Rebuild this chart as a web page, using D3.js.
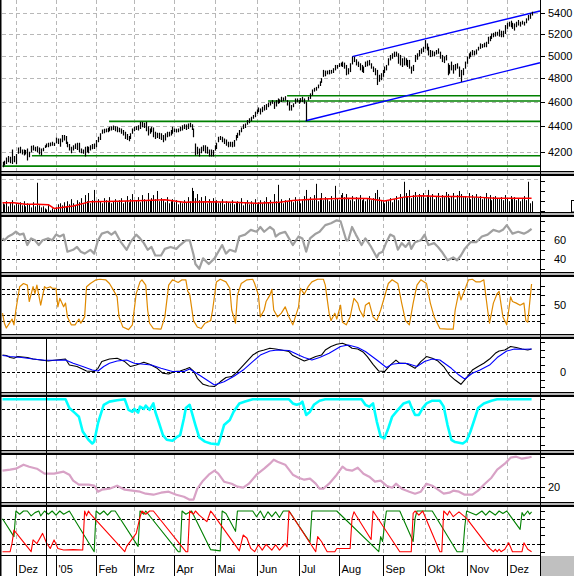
<!DOCTYPE html>
<html>
<head>
<meta charset="utf-8">
<script src="https://cdn.jsdelivr.net/npm/d3@7"></script>
<style>
  body { margin: 0; background: #fff; }
  svg { display: block; }
  text { font-family: "Liberation Sans", Arial, sans-serif; font-size: 11px; fill: #000; }
</style>
</head>
<body>
<div id="chart"></div>
<script>
// ---- data ----
var highs = [4124,4132,4157,4167,4162,4218,4167,4183,4233,4238,
  4218,4218,4213,4225,4200,4246,4251,4238,4243,4233,
  4225,4230,4251,4264,4269,4272,4277,4269,4311,4303,
  4303,4330,4330,4322,4277,4259,4238,4251,4264,4269,
  4269,4225,4218,4238,4243,4238,4251,4259,4264,4290,
  4316,4343,4374,4379,4382,4387,4395,4400,4406,4400,
  4395,4387,4382,4369,4356,4338,4322,4343,4382,4395,
  4400,4408,4435,4435,4427,4435,4400,4382,4395,4390,
  4356,4348,4348,4343,4330,4343,4356,4356,4369,4395,
  4382,4379,4382,4395,4408,4416,4414,4422,4427,4416,
  4382,4264,4238,4225,4238,4251,4251,4238,4218,4218,
  4213,4251,4269,4316,4322,4316,4303,4295,4277,4277,
  4277,4290,4330,4348,4369,4390,4416,4422,4449,4463,
  4476,4490,4517,4536,4552,4544,4558,4572,4580,4592,
  4600,4613,4600,4613,4627,4619,4641,4635,4646,4613,
  4600,4572,4586,4627,4627,4613,4630,4641,4627,4600,
  4641,4670,4703,4717,4725,4745,4773,4801,4873,4867,
  4867,4873,4873,4888,4917,4917,4932,4938,4947,4938,
  4917,4888,4932,4992,4992,4968,4947,4932,4917,4903,
  4947,4956,4962,4932,4903,4888,4873,4830,4844,4873,
  4903,4917,4977,5007,5022,5037,5037,5022,5007,4977,
  4986,4977,4962,4962,4903,4917,5007,5022,5052,5067,
  5082,5144,5113,5082,5052,5046,5037,5052,5067,5037,
  5007,4992,5007,4932,4917,4947,4917,4926,4932,4903,
  4873,4888,4947,4992,5022,5037,5052,5046,5058,5082,
  5113,5107,5119,5128,5175,5181,5206,5212,5222,5222,
  5244,5232,5232,5286,5308,5318,5328,5308,5302,5318,
  5335,5318,5328,5318,5351,5383,5400,5416];

var lows = [4087,4100,4112,4124,4117,4112,4124,4112,4188,4193,
  4183,4175,4183,4137,4162,4200,4213,4208,4200,4183,
  4175,4208,4233,4238,4238,4246,4251,4248,4269,4264,
  4243,4277,4290,4264,4238,4213,4193,4213,4225,4218,
  4200,4193,4188,4167,4200,4193,4213,4223,4225,4238,
  4277,4295,4343,4348,4356,4356,4364,4369,4374,4364,
  4356,4356,4343,4330,4303,4295,4285,4303,4343,4364,
  4374,4369,4382,4395,4390,4364,4330,4343,4356,4316,
  4303,4311,4303,4295,4277,4290,4316,4322,4330,4343,
  4356,4353,4356,4364,4369,4382,4374,4382,4395,4374,
  4316,4175,4183,4167,4193,4208,4193,4188,4167,4167,
  4167,4213,4225,4277,4295,4277,4264,4251,4238,4243,
  4238,4243,4290,4311,4330,4356,4382,4390,4416,4427,
  4443,4463,4476,4503,4517,4498,4517,4530,4536,4558,
  4572,4586,4544,4564,4586,4592,4600,4608,4613,4572,
  4530,4530,4558,4586,4600,4586,4597,4600,4586,4443,
  4613,4627,4656,4689,4697,4717,4737,4764,4816,4821,
  4838,4838,4844,4850,4873,4888,4903,4909,4903,4888,
  4830,4838,4858,4926,4947,4917,4903,4873,4858,4850,
  4903,4909,4917,4888,4858,4830,4745,4773,4787,4816,
  4850,4873,4917,4962,4977,4992,4998,4932,4917,4903,
  4917,4917,4903,4888,4844,4867,4947,4968,4998,5022,
  5037,5067,5052,5007,4992,4998,4998,5016,5022,4977,
  4947,4938,4962,4830,4844,4873,4844,4873,4888,4816,
  4773,4830,4888,4932,4977,4992,5007,5007,5016,5052,
  5067,5076,5082,5082,5113,5138,5159,5175,5181,5190,
  5181,5175,5175,5206,5254,5276,5270,5254,5238,5270,
  5286,5276,5296,5286,5308,5335,5351,5383];

var volume = [45,40,55,30,50,60,35,45,40,50,
  35,55,30,45,40,25,50,30,145,35,
  25,30,20,15,35,10,20,15,25,40,
  45,35,50,30,55,40,65,45,35,60,
  50,70,40,85,55,95,45,60,110,50,
  65,55,45,70,60,50,75,45,55,65,
  50,60,70,45,55,80,50,65,90,55,
  60,75,50,85,65,55,95,60,70,85,
  65,105,55,70,60,50,75,45,55,65,
  50,60,40,55,45,60,50,75,55,120,
  105,70,90,60,75,55,80,45,65,50,
  70,55,60,45,50,65,40,55,50,45,
  60,40,50,55,45,70,35,50,60,40,
  55,45,65,40,50,60,45,55,75,50,
  60,45,90,55,135,50,65,45,60,55,
  70,60,50,75,55,65,45,60,80,110,
  65,75,60,85,140,55,70,95,60,75,
  65,55,80,60,130,70,60,85,95,75,
  90,70,60,80,55,75,65,85,60,70,
  55,65,80,60,70,95,110,75,60,55,
  45,60,55,70,50,65,80,60,90,75,
  150,95,80,110,70,85,100,75,90,80,
  95,70,85,110,75,90,65,80,95,70,
  85,75,100,90,70,80,95,65,85,105,
  90,75,80,70,95,65,85,75,90,70,
  80,65,75,95,70,85,60,75,80,70,
  65,75,60,85,70,55,80,65,75,60,
  70,55,65,80,60,150,45,55];

var volumeAvg = [[0,48],[6,48],[12,40],[18,40],[24,38],[27,20],[37,32],[46,53],[60,55],[75,58],
  [85,62],[95,50],[108,53],[121,50],[133,45],[145,50],[152,58],[162,65],[181,70],[191,68],
  [200,56],[210,75],[219,82],[229,78],[238,78],[248,75],[258,70],[277,70]];

var rsi = [[0,62],[1,60],[3,64],[5,66],[7,69],[9,66],[11,67],[13,55],[15,62],[17,60],[19,55],[21,60],
  [24,62],[26,60],[28,66],[30,64],[32,66],[34,48],[37,50],[39,53],[41,48],[43,46],[46,50],[48,46],
  [50,60],[52,67],[55,69],[57,66],[59,69],[62,58],[65,50],[67,58],[70,66],[72,62],[74,57],[76,50],
  [78,53],[80,44],[83,44],[85,51],[88,53],[91,51],[93,55],[96,60],[98,60],[100,45],[101,35],[103,30],
  [105,41],[108,35],[111,41],[113,48],[115,55],[117,46],[119,50],[122,48],[124,64],[127,66],[130,71],
  [133,69],[135,74],[137,69],[140,74],[142,71],[143,64],[145,67],[148,69],[150,62],[152,55],[155,64],
  [157,62],[159,48],[161,62],[164,67],[166,69],[169,76],[172,78],[175,81],[177,80],[180,60],[181,60],
  [183,74],[185,66],[188,55],[190,62],[193,53],[196,42],[197,46],[199,48],[201,58],[203,66],[205,64],
  [207,50],[209,57],[211,53],[213,58],[214,51],[216,58],[219,60],[221,66],[223,55],[226,57],[228,53],
  [230,48],[233,39],[236,42],[238,39],[240,44],[242,51],[245,58],[248,58],[251,64],[254,66],[257,71],
  [260,69],[262,71],[264,76],[267,67],[270,69],[273,67],[275,69],[277,72]];

var stoch = [[0,34],[1,15],[2,6],[4,17],[5,23],[6,12],[7,40],[9,84],[11,90],[13,87],[14,56],[16,84],
  [17,71],[18,87],[20,49],[22,84],[23,81],[25,84],[26,81],[28,81],[29,46],[30,62],[32,46],[33,53],
  [34,27],[36,12],[38,12],[40,23],[41,15],[43,27],[44,84],[46,90],[49,97],[51,98],[54,97],[56,90],
  [58,78],[60,65],[61,27],[63,8],[66,3],[68,12],[70,71],[72,93],[73,97],[75,87],[76,40],[77,15],
  [79,5],[83,4],[85,27],[87,87],[89,97],[92,92],[94,97],[96,97],[97,75],[98,70],[100,20],[102,8],
  [104,5],[106,15],[109,20],[110,40],[112,93],[114,98],[117,93],[119,81],[120,40],[122,15],[123,68],
  [125,90],[128,97],[131,98],[132,90],[134,68],[135,27],[137,40],[138,56],[140,68],[141,79],[142,40],
  [144,27],[146,34],[148,46],[150,27],[152,12],[155,46],[156,81],[158,70],[160,84],[162,93],[165,98],
  [168,98],[169,87],[171,34],[172,20],[174,34],[175,23],[177,49],[178,17],[180,12],[182,27],[184,62],
  [186,53],[187,40],[189,27],[190,49],[192,54],[194,27],[196,20],[198,40],[200,65],[202,90],[204,97],
  [207,90],[209,53],[211,20],[213,12],[215,53],[217,87],[219,97],[222,90],[224,53],[226,27],[229,5],
  [233,4],[236,4],[237,40],[239,75],[240,59],[242,78],[244,97],[246,98],[248,93],[250,93],[252,97],
  [254,40],[255,15],[257,53],[259,71],[260,75],[262,27],[264,12],[266,65],[267,56],[269,53],[271,49],
  [273,53],[274,20],[275,17],[276,53],[277,89]];

var macd = [[0,69],[2,67],[4,59],[6,56],[8,63],[13,59],[16,53],[20,49],[24,45],[27,48],[33,53],[35,29],
  [39,23],[44,5],[48,3],[50,16],[52,43],[56,53],[60,56],[64,43],[67,23],[70,29],[74,40],[77,32],[81,16],
  [84,-4],[87,-7],[90,3],[93,5],[96,13],[98,19],[100,5],[102,-24],[105,-48],[108,-55],[111,-57],
  [114,-38],[117,-21],[120,-17],[123,3],[127,36],[131,69],[134,83],[137,89],[140,96],[143,93],[146,89],
  [150,83],[152,67],[155,56],[158,45],[161,53],[164,63],[167,69],[169,89],[172,103],[175,112],
  [178,116],[181,107],[183,96],[186,93],[189,80],[191,63],[194,32],[197,5],[200,3],[203,29],[206,49],
  [208,36],[211,36],[213,29],[216,16],[219,43],[222,63],[225,56],[228,45],[231,23],[234,-11],[237,-31],
  [240,-48],[243,-21],[246,9],[249,23],[252,36],[255,53],[258,76],[260,85],[263,89],[266,103],[269,99],
  [272,93],[275,89],[277,93]];

var macdSignal = [[0,67],[4,63],[10,59],[16,53],[22,48],[27,48],[33,49],[37,36],[42,23],[47,9],[50,5],
  [53,23],[56,36],[60,45],[65,49],[69,36],[74,32],[78,29],[83,16],[89,3],[95,3],[98,13],[103,-11],
  [107,-31],[111,-51],[116,-38],[121,-17],[126,9],[131,43],[135,69],[140,85],[144,89],[150,87],[155,69],
  [158,59],[162,49],[166,59],[171,76],[177,103],[181,109],[186,99],[190,83],[196,49],[201,19],[204,32],
  [208,36],[212,35],[217,23],[221,43],[225,53],[229,49],[235,16],[239,-11],[242,-27],[246,-4],[250,9],
  [255,29],[259,59],[264,85],[268,93],[273,92],[277,93]];

var cyanLine = [[0,100],[33,100],[35,81],[38,70],[40,62],[42,30],[45,12],[47,4],[48,8],[50,48],[51,62],
  [53,88],[56,95],[60,98],[64,100],[66,77],[68,73],[69,79],[71,71],[72,84],[74,79],[75,86],[77,77],
  [79,91],[80,73],[82,48],[84,22],[86,12],[89,10],[91,17],[93,22],[95,59],[96,81],[98,88],[99,73],
  [101,44],[103,17],[106,8],[109,4],[113,2],[114,15],[116,44],[119,55],[121,73],[124,91],[127,95],
  [131,100],[150,100],[152,91],[154,88],[156,91],[157,95],[159,66],[161,73],[163,88],[166,97],[169,100],
  [188,100],[190,88],[192,84],[194,91],[196,51],[198,19],[200,15],[202,37],[204,62],[207,77],[210,91],
  [213,95],[214,84],[216,66],[218,66],[220,81],[222,91],[225,97],[229,97],[231,84],[233,44],[235,12],
  [237,7],[241,4],[243,10],[245,30],[247,55],[249,81],[252,91],[256,97],[259,100],[277,100]];

var pinkLine = [[0,36],[4,37],[7,38],[11,42],[14,40],[18,38],[22,33],[27,33],[32,35],[35,32],[37,26],
  [40,22],[45,22],[48,21],[50,15],[52,17],[56,18],[60,21],[64,17],[68,16],[72,15],[75,13],[79,12],
  [83,14],[87,15],[91,12],[95,10],[98,7],[100,7],[102,18],[105,26],[108,32],[111,36],[113,33],[116,25],
  [120,23],[123,20],[126,19],[129,23],[133,32],[137,38],[140,43],[142,47],[144,45],[148,42],[152,32],
  [155,29],[158,27],[161,28],[164,23],[166,18],[168,18],[171,23],[175,32],[178,40],[180,37],[183,36],
  [186,39],[189,33],[192,30],[195,25],[198,26],[201,21],[204,19],[206,23],[209,18],[213,15],[216,13],
  [219,15],[222,23],[225,21],[228,17],[231,13],[234,14],[236,16],[239,15],[242,12],[246,12],[249,16],
  [252,22],[256,29],[259,37],[263,43],[266,49],[269,50],[272,48],[275,49],[277,50]];

var aroonUp = [[0,81],[6,37],[7,100],[9,92],[11,100],[13,100],[15,88],[17,96],[19,100],[20,88],[22,100],
  [24,92],[26,100],[28,90],[30,100],[32,92],[35,100],[48,0],[49,100],[51,92],[53,100],[55,90],[57,100],
  [59,100],[71,13],[72,100],[74,92],[75,100],[92,0],[93,0],[94,100],[96,92],[99,100],[103,62],[109,5],
  [114,2],[115,100],[117,94],[122,50],[123,100],[131,100],[133,86],[135,100],[137,82],[139,98],[141,86],
  [143,98],[145,84],[147,100],[150,100],[161,23],[162,100],[175,100],[197,0],[198,37],[199,25],[200,66],
  [201,100],[208,100],[215,25],[216,82],[217,100],[225,100],[238,0],[241,0],[242,60],[243,100],[248,90],
  [251,100],[253,90],[255,100],[258,90],[260,100],[262,94],[264,100],[271,55],[272,96],[273,88],
  [275,100],[276,92],[277,98]];

var aroonDown = [[0,0],[4,0],[5,21],[6,53],[15,0],[16,29],[18,20],[21,45],[23,22],[25,8],[27,29],[29,8],
  [32,4],[37,5],[42,4],[43,100],[44,88],[45,100],[46,93],[64,0],[65,13],[70,45],[72,85],[73,100],
  [75,92],[77,100],[79,100],[96,0],[97,0],[98,100],[100,92],[101,100],[103,90],[107,74],[109,100],
  [110,94],[124,2],[126,41],[128,33],[130,8],[132,0],[134,17],[136,4],[138,18],[141,4],[143,17],[145,4],
  [148,20],[149,12],[150,100],[152,86],[164,0],[165,37],[167,25],[170,0],[174,0],[175,8],[182,8],
  [183,82],[184,98],[185,90],[193,30],[194,100],[208,0],[214,0],[215,94],[216,100],[218,90],[220,100],
  [229,0],[230,0],[231,100],[233,90],[234,100],[236,86],[239,98],[241,90],[243,82],[255,8],[257,0],
  [258,6],[259,0],[260,6],[261,0],[263,6],[265,22],[267,0],[272,0],[273,22],[275,6],[277,0]];

var monthLabels = ["Dez", "'05", "Feb", "Mrz", "Apr", "Mai", "Jun", "Jul", "Aug", "Sep", "Okt", "Nov", "Dez"];
var monthStart = [7, 28, 49, 69, 90, 111, 133, 155, 176, 199, 221, 243, 264];
var cursorBar = 23;

var priceTicks = [4200, 4400, 4600, 4800, 5000, 5200, 5400];
var supportLevels = [4092, 4170, 4438, 4605, 4650];
var supportFrom = [0, 15.4, 55.8, 139, 149];
var channelUpper = [[183.1, 4992], [281.4, 5423]];
var channelLower = [[158.7, 4443], [281.4, 4937]];

// ---- drawing ----
window.onload = function(){
  var W = 574, H = 576, axisX = 540;

  var svg = d3.select("#chart").append("svg")
    .attr("width", W).attr("height", H)
    .attr("shape-rendering", "auto");

  svg.append("rect").attr("width", W).attr("height", H).attr("fill", "#fff");

  var x = d3.scaleLinear().domain([0, highs.length - 1]).range([2.5, 2.5 + (highs.length - 1) * 1.91]);
  function px(i){ return Math.round(x(i)) + 0.5; }

  // panel frames
  var panels = {
    price: [0, 171], vol: [176, 212], rsi: [217, 272], stoch: [277, 334],
    macd: [339, 392], cyan: [397, 450], pink: [455, 502], aroon: [507, 555.5]
  };

  var defs = svg.append("defs");
  Object.keys(panels).forEach(function(k){
    defs.append("clipPath").attr("id", "clip-" + k)
      .append("rect").attr("x", 1.5).attr("y", panels[k][0])
      .attr("width", axisX - 1.5).attr("height", panels[k][1] - panels[k][0]);
  });

  function panelGroup(k){
    var g = svg.append("g");
    var top = panels[k][0], bot = panels[k][1];
    // month grid
    g.selectAll(".vgrid").data(monthStart).enter().append("line")
      .attr("x1", function(d){ return px(d); }).attr("x2", function(d){ return px(d); })
      .attr("y1", top).attr("y2", bot)
      .attr("stroke", "#b8b8b8").attr("stroke-dasharray", "4,3");
    return g;
  }

  function levels(g, scale, vals){
    g.selectAll(null).data(vals).enter().append("line")
      .attr("x1", 2).attr("x2", axisX)
      .attr("y1", function(d){ return Math.round(scale(d)) + 0.5; })
      .attr("y2", function(d){ return Math.round(scale(d)) + 0.5; })
      .attr("stroke", "#000").attr("stroke-dasharray", "3,2");
  }

  function ticks(scale, vals){
    svg.append("g").selectAll(null).data(vals).enter().append("line")
      .attr("x1", axisX).attr("x2", axisX + 5)
      .attr("y1", function(d){ return Math.round(scale(d)) + 0.5; })
      .attr("y2", function(d){ return Math.round(scale(d)) + 0.5; })
      .attr("stroke", "#000");
  }

  function label(scale, vals, lx){
    svg.append("g").selectAll(null).data(vals).enter().append("text")
      .attr("x", lx).attr("y", function(d){ return scale(d); })
      .attr("dy", "0.36em").text(function(d){ return d; });
  }

  function series(g, k, data, scale, color, width){
    var line = d3.line().x(function(d){ return x(d[0]); }).y(function(d){ return scale(d[1]); });
    g.append("path").datum(data)
      .attr("clip-path", "url(#clip-" + k + ")")
      .attr("d", line).attr("fill", "none")
      .attr("stroke", color).attr("stroke-width", width)
      .attr("stroke-linejoin", "round");
  }

  // ---- price ----
  var yP = d3.scaleLog().domain([4056, 5532]).range([171, 0]);
  var gP = panelGroup("price");
  gP.selectAll(null).data(priceTicks).enter().append("line")
    .attr("x1", 2).attr("x2", axisX)
    .attr("y1", function(d){ return Math.round(yP(d)) + 0.5; })
    .attr("y2", function(d){ return Math.round(yP(d)) + 0.5; })
    .attr("stroke", "#b8b8b8").attr("stroke-dasharray", "4,3");
  gP.selectAll(null).data(supportLevels).enter().append("line")
    .attr("x1", function(d, i){ return x(supportFrom[i]); }).attr("x2", axisX)
    .attr("y1", function(d){ return yP(d); }).attr("y2", function(d){ return yP(d); })
    .attr("stroke", "#008000").attr("stroke-width", 1.6);
  [channelUpper, channelLower].forEach(function(c){
    gP.append("line")
      .attr("x1", x(c[0][0])).attr("y1", yP(c[0][1]))
      .attr("x2", x(c[1][0])).attr("y2", yP(c[1][1]))
      .attr("stroke", "#0000ff").attr("stroke-width", 1.4);
  });
  gP.append("g").attr("clip-path", "url(#clip-price)")
    .selectAll(null).data(highs).enter().append("line")
    .attr("x1", function(d, i){ return px(i); }).attr("x2", function(d, i){ return px(i); })
    .attr("y1", function(d){ return yP(d); })
    .attr("y2", function(d, i){ return yP(lows[i]) + 0.5; })
    .attr("stroke", "#000").attr("stroke-width", 1.2);
  ticks(yP, priceTicks);
  label(yP, priceTicks, 548);

  // ---- volume ----
  var yV = d3.scaleLinear().domain([0, 100]).range([212.5, 192]);
  var gV = panelGroup("vol");
  gV.append("line").attr("x1", 2).attr("x2", axisX)
    .attr("y1", 179.5).attr("y2", 179.5)
    .attr("stroke", "#b8b8b8").attr("stroke-dasharray", "4,3");
  gV.append("g").attr("clip-path", "url(#clip-vol)")
    .selectAll(null).data(volume).enter().append("line")
    .attr("x1", function(d, i){ return px(i); }).attr("x2", function(d, i){ return px(i); })
    .attr("y1", yV(0)).attr("y2", function(d){ return yV(d); })
    .attr("stroke", "#000");
  series(gV, "vol", volumeAvg, yV, "#ff0000", 1.5);
  ticks(yV, [5, 55, 105, 155]);
  svg.append("rect").attr("x", 571.5).attr("y", 200.5).attr("width", 4).attr("height", 11.5)
    .attr("fill", "none").attr("stroke", "#000");

  // ---- RSI ----
  var yR = d3.scaleLinear().domain([40, 60]).range([259.3, 240.3]);
  var gR = panelGroup("rsi");
  levels(gR, yR, [40, 60]);
  series(gR, "rsi", rsi, yR, "#a0a0a0", 2.2);
  ticks(yR, [30, 40, 50, 60, 70, 80]);
  label(yR, [60, 40], 554);

  // ---- stochastic ----
  var yS = d3.scaleLinear().domain([0, 100]).range([331.2, 278.2]);
  var gS = panelGroup("stoch");
  levels(gS, yS, [20, 30, 70, 80]);
  series(gS, "stoch", stoch, yS, "#e08a00", 1.2);
  ticks(yS, [15, 32.5, 50, 67.5, 85]);
  label(yS, [50], 554);

  // ---- MACD ----
  var yM = d3.scaleLinear().domain([0, 100]).range([372.3, 347.3]);
  var gM = panelGroup("macd");
  levels(gM, yM, [0]);
  series(gM, "macd", macd, yM, "#000", 1.1);
  series(gM, "macd", macdSignal, yM, "#0000ff", 1.1);
  ticks(yM, [-60, -30, 0, 30, 60, 90, 120]);
  label(yM, [0], 560);

  // ---- cyan oscillator ----
  var yC = d3.scaleLinear().domain([0, 100]).range([445.3, 399.3]);
  var gC = panelGroup("cyan");
  levels(gC, yC, [20, 80]);
  series(gC, "cyan", cyanLine, yC, "#00ffff", 2.6);
  ticks(yC, [0, 20, 40, 60, 80, 100]);

  // ---- pink line ----
  var yK = d3.scaleLinear().domain([20, 50]).range([486.7, 456.7]);
  var gK = panelGroup("pink");
  levels(gK, yK, [20]);
  series(gK, "pink", pinkLine, yK, "#d8a2c6", 2.2);
  ticks(yK, [10, 20, 30, 40, 50]);
  label(yK, [20], 548);

  // ---- aroon ----
  var yA = d3.scaleLinear().domain([0, 100]).range([551.7, 511]);
  var gA = panelGroup("aroon");
  levels(gA, yA, [20, 80]);
  series(gA, "aroon", aroonUp, yA, "#008000", 1.1);
  series(gA, "aroon", aroonDown, yA, "#ff0000", 1.1);
  ticks(yA, [0, 20, 40, 60, 80, 100]);

  // ---- separators ----
  [171, 212, 272, 334, 392, 450, 502].forEach(function(s){
    svg.append("rect").attr("x", 0).attr("y", s).attr("width", W).attr("height", 1).attr("fill", "#000");
    svg.append("rect").attr("x", 0).attr("y", s + 1).attr("width", W).attr("height", 2).attr("fill", "#b4b4b4");
    svg.append("rect").attr("x", 0).attr("y", s + 3).attr("width", W).attr("height", 2).attr("fill", "#000");
  });

  // ---- date axis ----
  svg.append("line").attr("x1", 0).attr("x2", axisX + 1).attr("y1", 555.5).attr("y2", 555.5).attr("stroke", "#000");
  svg.append("rect").attr("x", axisX + 1).attr("y", 556).attr("width", W - axisX - 1).attr("height", 20).attr("fill", "#c0c0c0");
  svg.append("g").selectAll(null).data(monthStart).enter().append("line")
    .attr("x1", function(d){ return px(d); }).attr("x2", function(d){ return px(d); })
    .attr("y1", 556).attr("y2", H).attr("stroke", "#000");
  svg.append("g").selectAll(null).data(monthStart).enter().append("text")
    .attr("x", function(d){ return px(d) + 2; }).attr("y", 572.5)
    .text(function(d, i){ return monthLabels[i]; });

  // cursor line through lower panels
  svg.append("line").attr("x1", px(cursorBar)).attr("x2", px(cursorBar))
    .attr("y1", 339).attr("y2", H).attr("stroke", "#000");

  // right axis line and left edge
  svg.append("line").attr("x1", axisX + 0.5).attr("x2", axisX + 0.5)
    .attr("y1", 0).attr("y2", H).attr("stroke", "#000");
  svg.append("rect").attr("x", 0).attr("y", 0).attr("width", 1.5).attr("height", H).attr("fill", "#000");
};
</script>
</body>
</html>
